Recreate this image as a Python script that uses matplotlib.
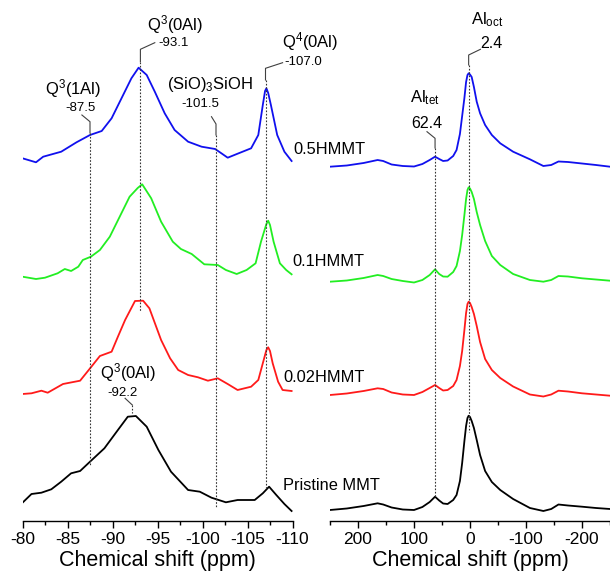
import matplotlib
matplotlib.use('Agg')
import matplotlib.pyplot as plt
from matplotlib.ticker import MultipleLocator

plt.rcParams['font.family'] = ['Liberation Sans', 'DejaVu Sans']
plt.rcParams['mathtext.fontset'] = 'custom'
plt.rcParams['mathtext.rm'] = 'Liberation Sans'
plt.rcParams['mathtext.default'] = 'regular'
plt.rcParams['axes.unicode_minus'] = False

# ---- 29Si spectra (left), ppm / intensity ----
si_blue_x = [-80.0, -81.5, -82.3, -84.3, -86.0, -87.5, -88.8, -89.9, -91.0, -92.1, -92.9, -93.8, -94.7,
             -95.8, -96.9, -98.4, -99.9, -101.4, -102.1, -102.8, -103.9, -105.4, -106.2, -106.7, -106.95,
             -107.1, -107.3, -107.6, -108.3, -109.1, -109.9]
si_blue_y = [17.7, 13.7, 19.3, 24.3, 33.7, 41, 45, 57.7, 77.7, 97.7, 108.3, 101, 84.3,
             62.7, 46, 34.3, 29.3, 27, 22.7, 18.3, 22.3, 27.7, 41, 71, 85,
             87.7, 83, 71, 41, 24.3, 15]

si_green_x = [-80.0, -81.5, -82.5, -83.9, -84.7, -85.4, -86.2, -86.7, -87.6, -88.6, -89.7, -90.8, -91.9,
              -92.8, -93.3, -94.3, -95.4, -96.7, -97.6, -98.8, -100.2, -101.7, -102.6, -103.8, -104.9,
              -105.9, -106.5, -107.1, -107.3, -107.5, -107.9, -108.6, -109.3, -109.9]
si_green_y = [14.3, 12, 13.3, 17.7, 22, 20, 24.3, 31, 34.3, 41, 54.3, 74.3, 94.3,
              103, 106.7, 92.7, 69.3, 49.3, 42, 37, 26.7, 26, 21, 17, 21,
              27.7, 49.3, 67, 70.3, 66, 49.3, 27.7, 21, 16.7]

si_red_x = [-80.0, -81.0, -82.1, -82.8, -84.5, -86.4, -87.6, -88.6, -89.9, -90.6, -91.4, -92.5, -93.4,
            -94.1, -95.4, -96.4, -97.3, -98.4, -99.5, -100.6, -101.7, -102.8, -103.9, -105.4, -106.2,
            -106.7, -107.1, -107.3, -107.5, -107.8, -108.4, -108.9, -109.9]
si_red_y = [12, 12.7, 15.3, 13.3, 22, 25.3, 38.7, 50, 54.3, 69.3, 86, 105, 105.3,
            97.7, 66, 47.7, 36, 31, 28.7, 25.3, 27.7, 22, 16, 19.3, 26,
            42.7, 56, 58.7, 55, 42.7, 24.3, 16, 15]

si_black_x = [-80.0, -81.0, -82.1, -83.2, -84.3, -85.4, -86.4, -87.5, -89.1, -90.6, -91.7, -92.6, -93.8,
              -95.1, -96.5, -98.4, -99.7, -101.0, -102.6, -103.9, -105.8, -106.7, -107.4, -108.2,
              -109.1, -109.9]
si_black_y = [18.3, 27, 28.3, 31.7, 39.3, 47.7, 50, 59.3, 72.7, 91, 104.3, 105, 94.3,
              71, 49.3, 31, 29.3, 23.3, 18.7, 21, 21, 27.7, 34.3, 26,
              17, 10]

# ---- 27Al spectra (right), common ppm grid ----
al_ppm = [250, 220, 190, 165, 155, 140, 120, 100, 85, 72, 62.4, 55, 48, 40, 30, 24, 18, 14, 10, 7,
          4.5, 2.4, 0, -3, -7, -12, -18, -27, -39, -54, -77, -107, -131, -145, -158, -175, -200,
          -225, -250]
al_blue = [9.3, 10.5, 13, 16, 15, 11.5, 10, 9.5, 12, 16, 19.3, 17, 15, 15.5, 20, 26, 42, 60, 78, 94,
           101, 102.7, 101.5, 99, 89, 74.3, 62.7, 51, 41, 32.7, 24.3, 16.7, 10, 11, 14.5, 14, 12.5,
           11, 9.3]
al_green = [9.3, 10.5, 13, 16, 15, 12, 10, 8.5, 11, 16, 21.7, 17, 14.5, 14.3, 19, 25, 40, 56, 76, 92,
            101, 103.7, 102.5, 99, 92, 79, 66, 50, 35, 26, 17, 11, 9.3, 11, 15, 14.5, 12.7,
            11.5, 10.3]
al_red = [11, 12.5, 15, 17.7, 17, 13.5, 11.5, 11, 14, 18, 21, 18, 15.5, 16, 20, 26, 40, 55, 76, 93,
          102, 104.3, 103, 99, 92, 80, 64, 47, 36, 28, 19.5, 11.5, 9.5, 11.5, 15.3, 14.5, 12.7,
          11.5, 10.3]
al_black = [11, 12.5, 15, 17.7, 16.5, 13.5, 11.5, 11, 14, 19, 24.3, 20.5, 17.5, 17, 21, 26, 40, 58, 80, 95,
            103, 105.3, 104, 100, 93, 81, 66, 50, 39, 31, 22, 13, 10, 12, 16.5, 15.5, 14.3,
            13, 12]

samples = ['Pristine MMT', '0.02HMMT', '0.1HMMT', '0.5HMMT']
colors = ['black', '#ff1a1a', '#22ee22', '#1010ee']
offsets = [0, 115, 230, 345]
si_x = [si_black_x, si_red_x, si_green_x, si_blue_x]
si_y = [si_black_y, si_red_y, si_green_y, si_blue_y]
al_y = [al_black, al_red, al_green, al_blue]

# peak markers: label, value, peak, (label x, y), (value x, y), diag start, y top, y solid end, y dotted end
si_marks = [
    ('Q$^3$(1Al)', '-87.5', -87.5, (-85.6, 432), (-86.4, 413), (-86.6, 406), 399.3, 388, 55),
    ('Q$^3$(0Al)', '-93.1', -93.1, (-96.9, 496), (-96.8, 478), (-94.7, 478.3), 471.7, 459.3, 209),
    ('(SiO)$_3$SiOH', '-101.5', -101.5, (-100.9, 436), (-99.8, 416.7), (-101.0, 404.3), 397, 386, 14.3),
    ('Q$^4$(0Al)', '-107.0', -107.0, (-112.0, 479), (-111.2, 459), (-108.9, 458.3), 452.7, 441, 31),
    ('Q$^3$(0Al)', '-92.2', -92.2, (-91.7, 148), (-91.1, 128), (-91.4, 122.7), 116, 116, 108),
]
al_marks = [
    ('Al$_{oct}$', '2.4', 2.4, (-31.6, 501), (-38.75, 478), (-18.6, 471.7), 466, 456, 89.3),
    ('Al$_{tet}$', '62.4', 62.4, (81, 423), (77.3, 398), (76.8, 389.3), 382.7, 373, 24.3),
]

fig = plt.figure(figsize=(6.1, 5.73), dpi=100)
ax1 = fig.add_axes([22.5 / 610, 52 / 573, 270 / 610, 521 / 573])
ax2 = fig.add_axes([330 / 610, 52 / 573, 280 / 610, 521 / 573])


def draw_marks(ax, marks, label_fs, value_fs):
    for lab, val, pk, lpos, vpos, dpos, ytop, ysol, yend in marks:
        ax.text(lpos[0], lpos[1], lab, fontsize=label_fs, ha='center', va='center')
        ax.text(vpos[0], vpos[1], val, fontsize=value_fs, ha='center', va='center')
        ax.plot([dpos[0], pk, pk], [dpos[1], ytop, ysol], color='0.25', lw=0.8, clip_on=False)
        ax.plot([pk, pk], [ysol, yend], color='0.2', lw=0.8, ls=(0, (1.5, 1.5)))


for i in range(4):
    ax1.plot(si_x[i], [v + offsets[i] for v in si_y[i]], color=colors[i], lw=1.3)
    ax2.plot(al_ppm, [v + offsets[i] for v in al_y[i]], color=colors[i], lw=1.3)

draw_marks(ax1, si_marks, 12, 9.5)
draw_marks(ax2, al_marks, 12, 11.5)

label_pos = [(-108.9, 36), (-109.0, 143), (-110.0, 259), (-110.1, 372)]
for s, (lx, ly) in zip(samples, label_pos):
    ax1.text(lx, ly, s, fontsize=11.8, ha='left', va='center', clip_on=False)

ax1.set_xlim(-80, -110)
ax2.set_xlim(250, -250)
for ax in (ax1, ax2):
    ax.set_ylim(0, 521)
    ax.set_yticks([])
    for side in ('left', 'right', 'top'):
        ax.spines[side].set_visible(False)
    ax.spines['bottom'].set_linewidth(1.0)
    ax.tick_params(axis='x', which='major', direction='out', length=5, width=1, labelsize=12.5, pad=3)
    ax.tick_params(axis='x', which='minor', direction='out', length=3, width=1)
    ax.set_xlabel('Chemical shift (ppm)', fontsize=15.5, labelpad=2)
    ax.patch.set_visible(False)

ax1.xaxis.set_major_locator(MultipleLocator(5))
ax1.xaxis.set_minor_locator(MultipleLocator(2.5))
ax2.set_xticks([200, 100, 0, -100, -200])
ax2.xaxis.set_minor_locator(MultipleLocator(50))

fig.savefig('out.png', dpi=100)
